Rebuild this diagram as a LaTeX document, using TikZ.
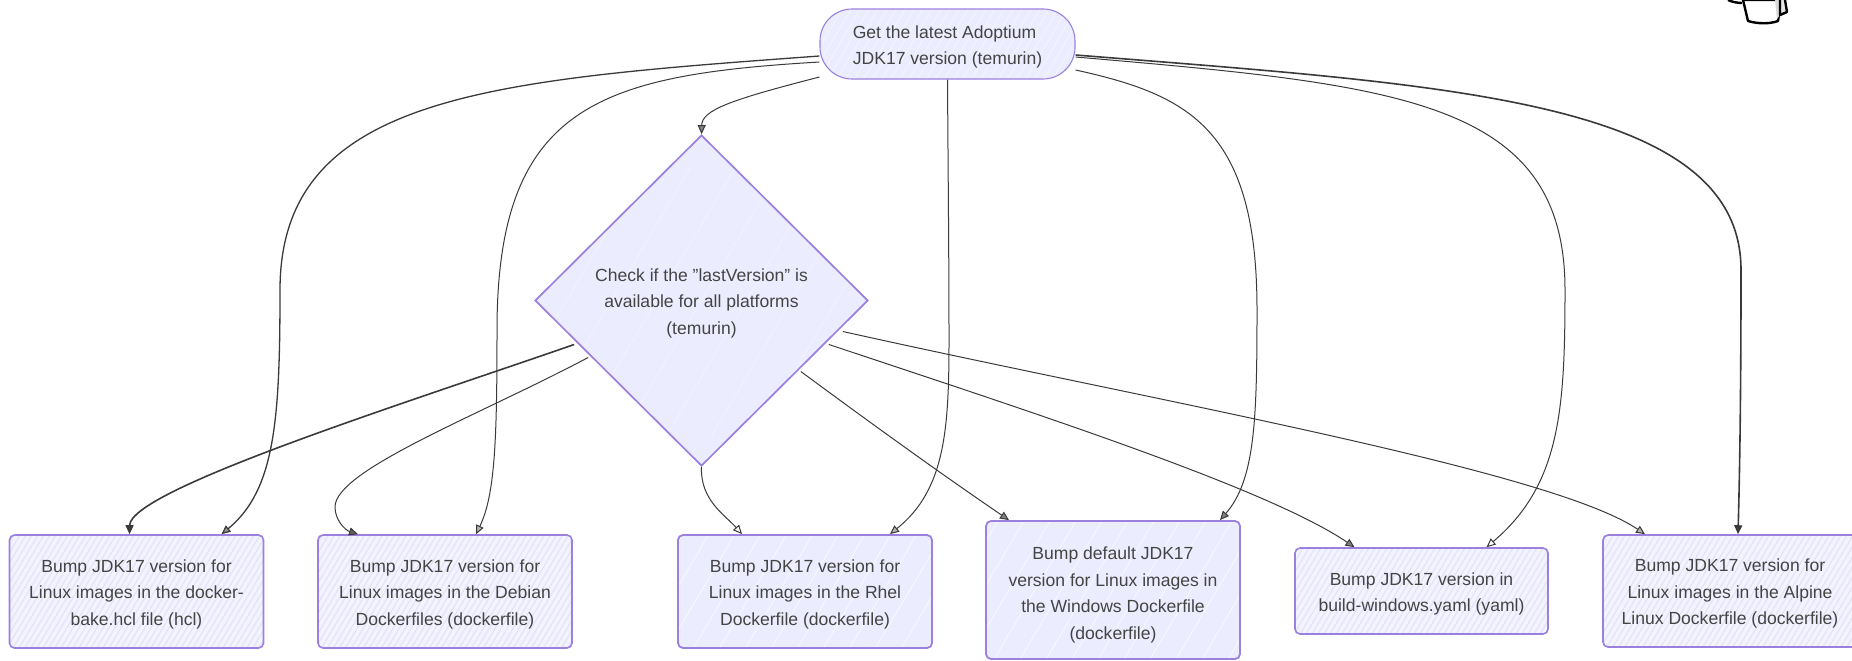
\documentclass[tikz,border=0pt]{standalone}
\usepackage{fontspec}
\setmainfont{Liberation Sans}
\usetikzlibrary{shapes.geometric,arrows.meta,calc}
\definecolor{mfill}{HTML}{ECECFF}
\definecolor{mpale}{HTML}{F3F3FF}
\definecolor{mhatch}{HTML}{E2E2F8}
\definecolor{mstroke}{HTML}{9B80DF}
\definecolor{mtext}{HTML}{444444}
\definecolor{medge}{HTML}{3A3A3A}
\newcommand{\lowertext}{\rule{0pt}{9.2pt}}
\newcommand{\lowertextb}{\rule{0pt}{11.2pt}}
\tikzset{
  x=0.5pt,y=-0.5pt,
  hatchfill/.style n args={3}{path picture={
    \foreach \n [evaluate=\n as \k using \n*#1] in {-50,...,50}{
      \draw[#2,line width=#3] (path picture bounding box.center) ++(\k-80,135) -- ++(160,-270);
    }}},
  shapebase/.style={draw=mstroke,align=center,text=mtext,inner sep=0pt,
    font=\fontsize{8.78}{13.25}\selectfont},
  densebox/.style={shapebase,rectangle,rounded corners=2.5pt,line width=.8pt,fill=mpale,hatchfill={6}{mhatch}{.55pt}},
  sparsebox/.style={shapebase,rectangle,rounded corners=2.5pt,line width=.9pt,fill=mfill,hatchfill={26}{white}{.25pt}},
  startshape/.style={shapebase,rectangle,rounded corners=16pt,line width=.55pt,fill=mfill,hatchfill={9}{mpale}{.5pt}},
  decide/.style={shapebase,diamond,aspect=1,line width=.85pt,fill=mfill,hatchfill={45}{mpale}{.35pt}},
  edge/.style={draw=medge,line width=.5pt,
    -{Triangle[length=4.5pt,width=4pt,fill=#1]}},
  edge/.default=gray,
  heavy/.style={line width=.8pt},
}
\begin{document}
\begin{tikzpicture}
\useasboundingbox (0,0) rectangle (1852,660);
\node[startshape,minimum width=127.5pt,minimum height=35pt] (top) at (947.5,44) {\lowertext Get the latest Adoptium\hspace*{3pt}\\JDK17 version (temurin)};
\node[decide,minimum width=166.5pt,minimum height=165.5pt] (check) at (701.5,300.5) {\lowertext Check if the "lastVersion" is\\available for all platforms\\(temurin)};
\node[densebox,minimum width=127pt,minimum height=56.5pt] (b1) at (136.5,591.5) {\lowertext Bump JDK17 version for\\Linux images in the docker-\\bake.hcl file (hcl)};
\node[densebox,minimum width=127pt,minimum height=56.5pt] (b2) at (445,591.5) {\lowertext Bump JDK17 version for\\Linux images in the Debian\\Dockerfiles (dockerfile)};
\node[sparsebox,minimum width=127pt,minimum height=56.5pt] (b3) at (805,591.5) {\lowertext Bump JDK17 version for\\Linux images in the Rhel\\Dockerfile (dockerfile)};
\node[sparsebox,minimum width=127pt,minimum height=69pt] (b4) at (1113,590) {\lowertextb Bump default JDK17\\version for Linux images in\\the Windows Dockerfile\\(dockerfile)};
\node[densebox,minimum width=126.5pt,minimum height=43pt] (b5) at (1421.5,591) {\lowertext Bump JDK17 version in\\build-windows.yaml (yaml)};
\node[densebox,minimum width=127pt,minimum height=56pt] (b6) at (1730,591) {\lowertext Bump JDK17 version for\\Linux images in the Alpine\\Linux Dockerfile (dockerfile)};
% connectors from the start shape
\draw[edge=medge!50,line width=.65pt] ($(top.west)+(0,12)$) .. controls (490,80) and (280,95) .. (280,290) .. controls (280,420) and (275,490) .. ($(b1.north)+(85,0)$);
\draw[edge=gray!60] ($(top.west)+(0,18)$) .. controls (600,75) and (497,105) .. (497,330) .. controls (497,440) and (495,495) .. ($(b2.north)+(31,0)$);
\draw[edge=gray] ($(top.west)+(0,33)$) .. controls (730,100) and (702,110) .. (check.north);
\draw[edge=gray!60] (top.south) .. controls (948,160) and (949,260) .. (949,340) .. controls (949,430) and (945,490) .. ($(b3.north)+(85,0)$);
\draw[edge=gray] ($(top.east)+(0,26)$) .. controls (1190,95) and (1257,130) .. (1257,310) .. controls (1257,420) and (1255,480) .. ($(b4.north)+(107,0)$);
\draw[edge=white] ($(top.east)+(0,13)$) .. controls (1400,85) and (1565,100) .. (1565,290) .. controls (1565,410) and (1560,485) .. ($(b5.north)+(65,0)$);
\draw[edge=medge,heavy] ($(top.east)+(0,11)$) .. controls (1450,85) and (1741,100) .. (1741,270) .. controls (1741,380) and (1740,460) .. ($(b6.north)+(8,0)$);
% connectors from the decision
\draw[edge=medge,heavy] ($(check.west)+(40,44)$) .. controls (400,405) and (130,490) .. ($(b1.north)+(-7,0)$);
\draw[edge=medge!80] ($(check.west)+(54,57)$) .. controls (480,415) and (335,470) .. (335,507) .. controls (335,520) and (345,530) .. ($(b2.north)+(-87,0)$);
\draw[edge=white] (check.south) .. controls (700,500) and (725,515) .. ($(b3.north)+(-63,0)$);
\draw[edge=gray] ($(check.east)+(-68,71)$) .. controls (880,430) and (950,480) .. ($(b4.north)+(-104,0)$);
\draw[edge=gray] ($(check.east)+(-40,44)$) .. controls (1050,418) and (1270,490) .. ($(b5.north)+(-67,0)$);
\draw[edge=gray!60] ($(check.east)+(-26,31)$) .. controls (1150,400) and (1550,470) .. ($(b6.north)+(-85,0)$);
% clipped figure at the top right
\fill[white,draw=black,line width=1.2pt,line join=round] (1743,0) -- (1748,21) .. controls (1758,24) and (1770,24) .. (1778,21) -- (1781,0) -- cycle;
\fill[black!15] (1775,0) -- (1777,19) -- (1780,15) -- (1782,0) -- cycle;
\fill[white!90!black,draw=black,line width=1.2pt,line join=round] (1780,0) -- (1780,15) -- (1787,12) -- (1785,0);
\draw[black,line width=1.2pt] (1728,0) .. controls (1732,2) and (1738,3) .. (1742,3);
\end{tikzpicture}
\end{document}
